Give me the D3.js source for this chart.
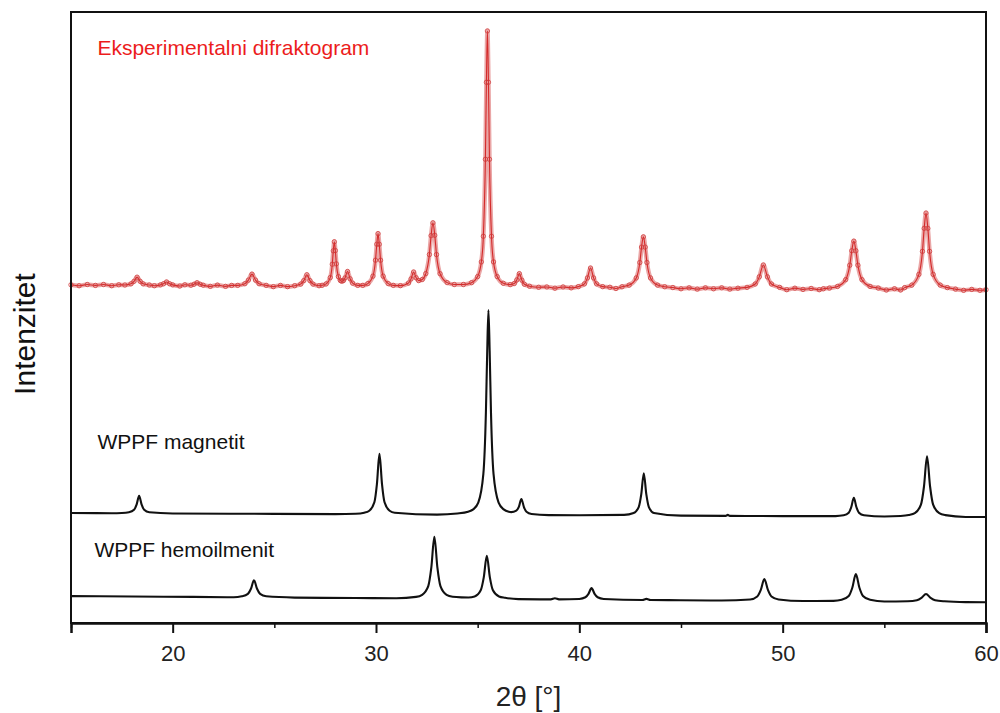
<!DOCTYPE html>
<html><head><meta charset="utf-8">
<script src="https://cdn.jsdelivr.net/npm/d3@7"></script>
<style>html,body{margin:0;padding:0;background:#fff}svg{display:block}text{font-family:"Liberation Sans",Arial,Helvetica,sans-serif}</style>
</head><body><svg id="chart" width="1000" height="713"></svg>
<script>
// 2θ [°], intensity (arbitrary units, series already vertically offset as in the figure)
const experimental = [[15.0,55.35],[15.4,55.2],[15.8,55.4],[16.2,55.25],[16.6,55.4],[17.0,55.2],[17.35,55.35],
[17.65,55.32],[17.95,55.51],[18.1,55.92],[18.25,56.6],[18.4,55.92],[18.55,55.51],[18.85,55.32],
[19.1,55.2],[19.4,55.34],[19.55,55.52],[19.7,55.82],[19.85,55.52],[20.0,55.34],
[20.35,55.15],[20.6,55.35],[20.9,55.29],[21.05,55.44],[21.2,55.69],[21.35,55.44],[21.5,55.29],
[21.85,55.1],[22.2,55.3],[22.6,55.1],[22.9,55.25],
[23.2,55.26],[23.55,55.53],[23.725,56.12],[23.9,57.1],[24.075,56.12],[24.25,55.53],[24.6,55.26],
[24.95,55.05],[25.3,55.25],[25.65,55.05],
[26.0,55.2],[26.3,55.47],[26.45,56.04],[26.6,57.0],[26.75,56.04],[26.9,55.47],[27.2,55.2],
[27.35,55.27],[27.55,55.5],[27.75,56.53],[27.85,58.72],[27.9,60.91],[27.95,62.4],[28.0,60.96],[28.05,58.78],[28.15,56.69],[28.25,56.05],[28.32,55.94],[28.4,56.05],[28.475,56.47],[28.6,57.53],[28.725,56.34],[28.85,55.62],[29.1,55.26],
[29.35,55.26],[29.6,55.55],[29.85,56.77],[29.975,59.38],[30.04,61.99],[30.1,63.73],[30.16,61.99],[30.225,59.38],[30.35,56.77],[30.6,55.55],[30.85,55.26],
[31.2,55.21],[31.6,55.64],[31.725,56.32],[31.85,57.45],[31.975,56.5],[32.1,56.04],[32.275,56.22],[32.45,57.19],[32.625,60.3],[32.71,63.4],[32.8,65.5],[32.89,63.46],[32.975,60.3],[33.15,57.17],[33.5,55.71],[33.85,55.4],[34.3,55.4],[34.7,55.7],[35.0,56.7],[35.18,59.1],[35.28,63.3],[35.38,75.9],[35.43,88.5],[35.48,96.9],[35.53,88.5],[35.58,75.9],[35.68,63.3],[35.78,59.1],[35.96,56.7],[36.26,55.6],[36.6,55.38],[36.8,55.56],[36.925,56.15],[37.05,57.18],[37.175,56.11],[37.3,55.44],[37.55,55.12],[38.0,54.95],
[38.4,55.0],[38.8,54.8],[39.2,55.0],[39.6,54.85],
[39.95,55.05],[40.25,55.5],[40.4,56.48],[40.55,58.1],[40.7,56.48],[40.85,55.5],[41.15,55.05],
[41.5,54.95],[41.8,54.75],
[42.1,55.03],[42.45,55.3],[42.8,56.48],[42.975,59.0],[43.06,61.52],[43.15,63.2],[43.24,61.52],[43.325,59.0],[43.5,56.48],[43.85,55.3],[44.2,55.03],
[44.6,54.9],[45.0,54.7],[45.4,54.85],[45.8,54.65],[46.2,54.85],[46.6,54.7],[47.0,54.85],[47.4,54.65],[47.8,54.8],
[48.25,54.93],[48.65,55.48],[48.85,56.65],[49.05,58.6],[49.25,56.65],[49.45,55.48],[49.85,54.93],
[50.2,54.55],[50.6,54.8],[51.0,54.6],[51.4,54.75],[51.8,54.55],[52.0,54.7],
[52.3,54.82],[52.7,55.08],[53.1,56.19],[53.3,58.56],[53.4,60.93],[53.5,62.5],[53.6,60.93],[53.7,58.56],[53.9,56.19],[54.3,55.08],[54.7,54.82],
[55.1,54.5],[55.5,54.7],[55.8,54.5],
[56.0,54.89],[56.35,55.3],[56.7,57.06],[56.875,60.83],[56.96,64.59],[57.05,67.1],[57.14,64.59],[57.225,60.83],[57.4,57.06],[57.75,55.3],[58.1,54.89],
[58.5,54.65],[58.9,54.45],[59.3,54.6],[59.7,54.45],[60.0,54.55]];

const magnetit = [[15,18.0],[17,17.97],[17.5,18.0],[17.85,18.12],[18.1,18.52],[18.225,19.38],[18.35,20.8],[18.475,19.38],[18.6,18.52],[18.85,18.12],[20,17.93],[25,17.86],[28,17.82],[29.0,17.88],[29.42,18.05],[29.67,18.38],[29.92,19.76],[30.045,22.74],[30.17,27.7],[30.295,22.74],[30.42,19.76],[30.67,18.38],[30.92,18.05],[33,17.74],[34.0,17.92],[34.53,18.2],[34.78,18.6],[35.03,19.7],[35.28,24.4],[35.405,34.45],[35.47,44.5],[35.53,51.2],[35.59,44.5],[35.655,34.45],[35.78,24.4],[36.03,19.7],[36.28,18.6],[36.53,18.2],[36.65,18.15],[36.9,18.4],[37.025,19.0],[37.15,20.3],[37.275,18.98],[37.4,18.2],[37.65,17.84],[38.5,17.66],[40,17.64],[42.2,17.7],[42.67,18.0],[42.92,18.97],[43.045,21.04],[43.17,24.5],[43.295,21.04],[43.42,18.97],[43.67,18.0],[45,17.57],[47.2,17.53],[47.3,17.7],[47.4,17.53],[50,17.5],[52.6,17.5],[53.0,17.63],[53.25,18.06],[53.375,18.98],[53.5,20.5],[53.625,18.98],[53.75,18.06],[54.0,17.63],[55,17.42],[55.8,17.5],[56.2,17.66],[56.5,17.98],[56.8,19.37],[56.95,22.34],[57.1,27.3],[57.25,22.34],[57.4,19.37],[57.7,17.98],[58.0,17.66],[59,17.36],[60,17.35]];

const hemoilmenit = [[15,4.4],[18,4.33],[21,4.27],[23,4.22],[23.4,4.37],[23.7,4.76],[23.85,5.6],[24.0,7.0],[24.15,5.6],[24.3,4.76],[24.6,4.37],[26,4.16],[29,4.09],[31,4.05],[31.97,4.27],[32.27,4.61],[32.57,6.02],[32.72,9.05],[32.87,14.1],[33.02,9.05],[33.17,6.02],[33.47,4.61],[33.77,4.3],[34.2,4.2],[34.55,4.18],[34.85,4.35],[35.15,5.35],[35.3,7.47],[35.45,11.0],[35.6,7.47],[35.75,5.35],[36.05,4.35],[36.35,4.13],[37,3.91],[38.6,3.87],[38.8,4.05],[39.0,3.87],[40.0,3.94],[40.3,4.21],[40.45,4.78],[40.6,5.7],[40.75,4.78],[40.9,4.21],[41.2,3.94],[43.1,3.77],[43.3,3.95],[43.5,3.77],[45,3.73],[47,3.69],[48.4,3.85],[48.75,4.35],[48.925,5.42],[49.1,7.2],[49.275,5.42],[49.45,4.35],[49.8,3.85],[51,3.6],[52.5,3.62],[52.9,3.8],[53.25,4.43],[53.425,5.77],[53.6,8.0],[53.775,5.77],[53.95,4.43],[54.3,3.8],[55,3.51],[56.15,3.55],[56.6,3.73],[56.825,4.12],[57.05,4.75],[57.275,4.12],[57.5,3.73],[57.95,3.55],[59,3.42],[60,3.4]];

const majorTicks = [20, 30, 40, 50, 60];
const minorTicks = [15, 25, 35, 45, 55];
const seriesLabels = ["Eksperimentalni difraktogram", "WPPF magnetit", "WPPF hemoilmenit"];
const labelAnchors = [[16.3, 93.0], [16.3, 28.5], [16.15, 10.8]];
const xTitle = "2θ [°]";
const yTitle = "Intenzitet";

const svg = d3.select("#chart");
svg.append("rect").attr("width", 1000).attr("height", 713).attr("fill", "#fff");

const x = d3.scaleLinear().domain([15, 60]).range([71, 986]);
const y = d3.scaleLinear().domain([0, 100]).range([623, 12]);
const line = d3.line().x(d => x(d[0])).y(d => y(d[1])).curve(d3.curveMonotoneX);

// experimental pattern
svg.append("path").datum(experimental).attr("d", line)
  .attr("fill", "none").attr("stroke", "#eaa6a6").attr("stroke-width", 4.5).attr("stroke-linejoin", "round");
svg.append("path").datum(experimental).attr("d", line)
  .attr("fill", "none").attr("stroke", "#d42a2a").attr("stroke-width", 1.1);
svg.append("g").selectAll("circle").data(experimental).join("circle")
  .attr("cx", d => x(d[0])).attr("cy", d => y(d[1])).attr("r", 2.2)
  .attr("fill", "none").attr("stroke", "#cf3a3a").attr("stroke-width", 0.8);

// WPPF fits
[magnetit, hemoilmenit].forEach(s => {
  svg.append("path").datum(s).attr("d", line)
    .attr("fill", "none").attr("stroke", "#111").attr("stroke-width", 2.1).attr("stroke-linejoin", "round");
});

// frame
svg.append("rect").attr("x", x(15)).attr("y", y(100)).attr("width", x(60) - x(15)).attr("height", y(0) - y(100))
  .attr("fill", "none").attr("stroke", "#111").attr("stroke-width", 2);

// bottom axis
const gx = svg.append("g").attr("transform", `translate(0,${y(0)})`)
  .call(d3.axisBottom(x).tickValues(majorTicks).tickSize(10).tickPadding(12).tickFormat(d3.format("d")));
gx.select(".domain").attr("stroke", "#111").attr("stroke-width", 2.5);
gx.selectAll(".tick line").attr("stroke", "#111").attr("stroke-width", 2);
gx.selectAll(".tick text").attr("font-size", 22).attr("fill", "#222")
  .attr("font-family", "'Liberation Sans', Arial, sans-serif");
const gm = svg.append("g").attr("transform", `translate(0,${y(0)})`)
  .call(d3.axisBottom(x).tickValues(minorTicks).tickSize(5).tickFormat(""));
gm.select(".domain").remove();
gm.selectAll(".tick line").attr("stroke", "#111").attr("stroke-width", 1.5);

// axis titles
svg.append("text").attr("x", (x(15) + x(60)) / 2).attr("y", 706).attr("text-anchor", "middle")
  .attr("font-size", 28).attr("fill", "#222").text(xTitle);
svg.append("text").attr("transform", "translate(35,334) rotate(-90)").attr("text-anchor", "middle")
  .attr("font-size", 30).attr("fill", "#111").text(yTitle);

// series labels
const labelColors = ["#ec1c1c", "#111", "#111"];
svg.append("g").selectAll("text").data(seriesLabels).join("text")
  .attr("x", (d, i) => x(labelAnchors[i][0])).attr("y", (d, i) => y(labelAnchors[i][1]))
  .attr("font-size", 21).attr("fill", (d, i) => labelColors[i]).text(d => d);
</script></body></html>
